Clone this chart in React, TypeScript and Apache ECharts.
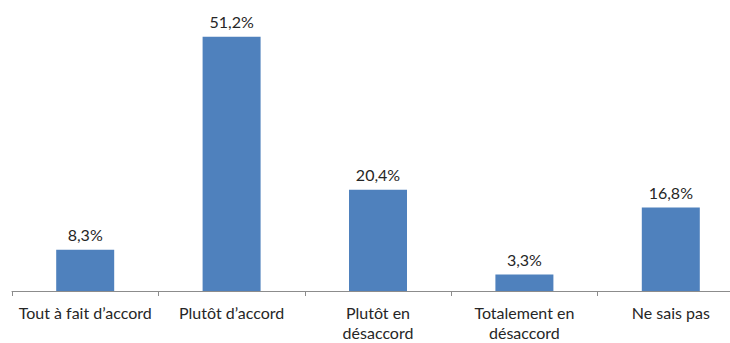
import React, { useEffect, useRef } from "react";
import * as echarts from "echarts";

const categories = [
  "Tout à fait d’accord",
  "Plutôt d’accord",
  "Plutôt en\ndésaccord",
  "Totalement en\ndésaccord",
  "Ne sais pas",
];
const values = [8.3, 51.2, 20.4, 3.3, 16.8];

export default function App() {
  const ref = useRef<HTMLDivElement>(null);
  useEffect(() => {
    const chart = echarts.init(ref.current!, null, { renderer: "svg" });
    chart.setOption({
      animation: false,
      grid: {
        left: 12,
        width: 732,
        top: 18,
        height: 273,
        outerBoundsMode: "none",
        containLabel: false,
      },
      xAxis: {
        type: "category",
        data: categories,
        axisLine: { lineStyle: { color: "#8c8c8c", width: 1 } },
        axisTick: { show: true, length: 5, lineStyle: { color: "#8c8c8c" } },
        axisLabel: {
          interval: 0,
          color: "#262626",
          fontFamily: "Lato",
          fontSize: 16,
          lineHeight: 20,
          margin: 11,
        },
      },
      yAxis: {
        type: "value",
        min: 0,
        max: 55,
        show: false,
        splitLine: { show: false },
      },
      series: [
        {
          type: "bar",
          data: values,
          barWidth: 58,
          itemStyle: { color: "#4f81bd" },
          label: {
            show: true,
            position: "top",
            distance: 6,
            lineHeight: 18,
            color: "#262626",
            fontFamily: "Lato",
            fontSize: 16,
            formatter: (p: any) => p.value.toFixed(1).replace(".", ",") + "%",
          },
        },
      ],
    });
    return () => chart.dispose();
  }, []);
  return (
    <div
      ref={ref}
      style={{ position: "absolute", left: 0, top: 0, width: 730, height: 343 }}
    />
  );
}
